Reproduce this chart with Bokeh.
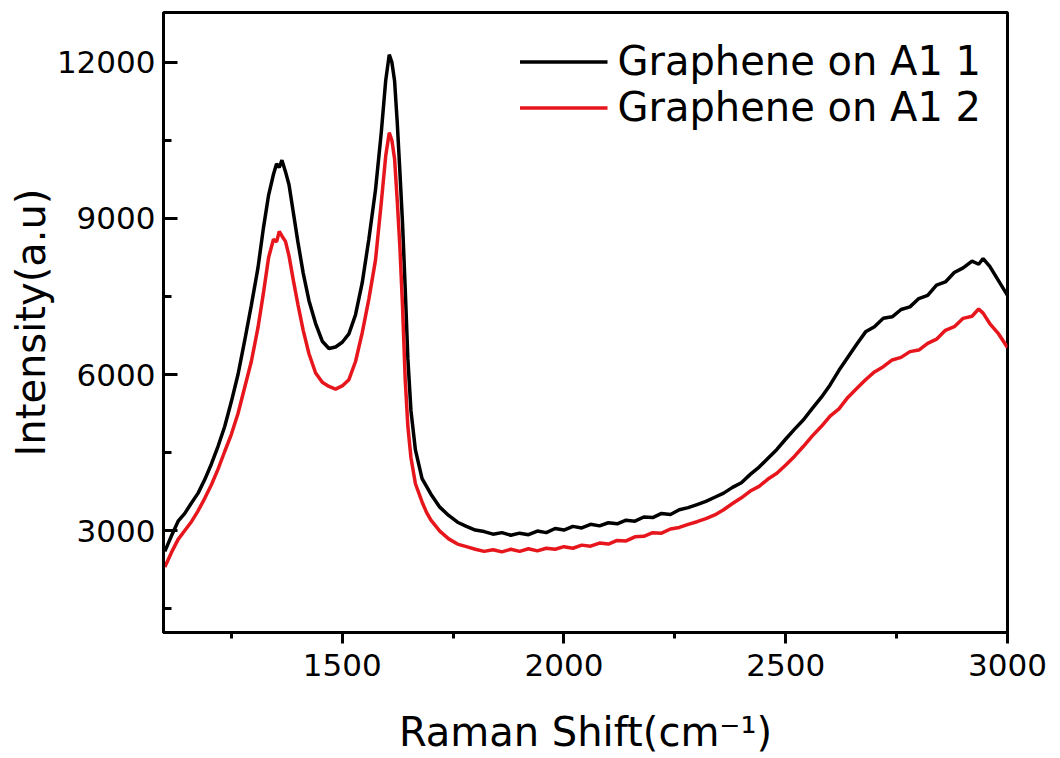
from bokeh.plotting import figure
from bokeh.models import FixedTicker, Range1d, Legend
from bokeh.embed import file_html
from bokeh.resources import INLINE

# ---- data ----
shift_1 = [1100, 1115, 1130, 1145, 1160, 1175, 1190, 1205, 1220, 1235, 1250, 1265, 1280, 1295,
           1310, 1322, 1334, 1345, 1352, 1358, 1364, 1372, 1380, 1390, 1400, 1412, 1425, 1440,
           1455, 1470, 1485, 1500, 1515, 1530, 1545, 1560, 1575, 1588, 1598, 1606, 1612, 1618,
           1624, 1630, 1636, 1642, 1648, 1655, 1665, 1680, 1690,
           1700, 1720, 1740, 1760, 1780, 1800, 1820, 1840, 1860, 1880, 1900, 1920, 1940, 1960,
           1980, 2000, 2020, 2040, 2060, 2080, 2100, 2120, 2140, 2160, 2180, 2200, 2220, 2240,
           2260, 2280, 2300, 2320, 2340, 2360, 2380, 2400, 2420, 2440, 2460, 2480, 2500, 2520,
           2540, 2560, 2580, 2600, 2620, 2640, 2660, 2680, 2700, 2720, 2740, 2760, 2780, 2800,
           2820, 2840, 2860, 2880, 2900, 2920, 2935, 2945, 2960, 2980, 3000]
intensity_1 = [2600, 2900, 3180, 3330, 3530, 3720, 3980, 4280, 4620, 5000, 5480, 6000, 6650, 7330,
               8050, 8800, 9450, 9850, 10050, 9980, 10120, 9900, 9650, 9100, 8550, 7950, 7420, 6980,
               6640, 6500, 6530, 6620, 6780, 7150, 7760, 8600, 9550, 10650, 11650, 12150, 12000, 11650,
               10850, 9900, 8900, 7650, 6300, 5300, 4550, 4000, 3850,
               3700, 3450, 3290, 3160, 3080, 3010, 2980, 2930, 2960, 2910, 2950, 2920, 2990, 2960,
               3040, 3010, 3080, 3050, 3120, 3090, 3150, 3130, 3200, 3180, 3260, 3250, 3330, 3310,
               3400, 3440, 3500, 3560, 3640, 3720, 3830, 3920, 4080, 4220, 4390, 4560, 4760, 4950,
               5130, 5350, 5560, 5800, 6080, 6330, 6580, 6820, 6920, 7080, 7110, 7250, 7300, 7460,
               7520, 7720, 7780, 7960, 8050, 8180, 8120, 8230, 8080, 7800, 7520]

shift_2 = [1100, 1115, 1130, 1145, 1160, 1175, 1190, 1205, 1220, 1235, 1250, 1265, 1280, 1295,
           1310, 1322, 1334, 1345, 1352, 1358, 1365, 1372, 1380, 1390, 1400, 1412, 1425, 1440,
           1455, 1470, 1485, 1500, 1515, 1530, 1545, 1560, 1575, 1588, 1598, 1606, 1612, 1618,
           1624, 1630, 1636, 1642, 1648, 1655, 1665, 1680, 1690,
           1700, 1720, 1740, 1760, 1780, 1800, 1820, 1840, 1860, 1880, 1900, 1920, 1940, 1960,
           1980, 2000, 2020, 2040, 2060, 2080, 2100, 2120, 2140, 2160, 2180, 2200, 2220, 2240,
           2260, 2280, 2300, 2320, 2340, 2360, 2380, 2400, 2420, 2440, 2460, 2480, 2500, 2520,
           2540, 2560, 2580, 2600, 2620, 2640, 2660, 2680, 2700, 2720, 2740, 2760, 2780, 2800,
           2820, 2840, 2860, 2880, 2900, 2920, 2935, 2945, 2960, 2980, 3000]
intensity_2 = [2300, 2580, 2830, 3000, 3170, 3380, 3620, 3880, 4180, 4520, 4850, 5250, 5750, 6250,
               6900, 7550, 8250, 8600, 8550, 8750, 8650, 8560, 8280, 7800, 7350, 6850, 6400, 6030,
               5850, 5770, 5720, 5780, 5900, 6250, 6800, 7450, 8200, 9300, 10200, 10650, 10500, 10150,
               9350, 8450, 7300, 5900, 5000, 4400, 3900, 3550, 3350,
               3200, 2990, 2840, 2740, 2690, 2640, 2600, 2630, 2590, 2640, 2600, 2650, 2610, 2660,
               2640, 2690, 2660, 2720, 2700, 2760, 2740, 2810, 2800, 2880, 2890, 2960, 2950, 3030,
               3060, 3120, 3170, 3230, 3300, 3400, 3520, 3630, 3760, 3850, 3990, 4100, 4260, 4430,
               4620, 4820, 5000, 5200, 5340, 5560, 5730, 5900, 6050, 6150, 6280, 6330, 6440, 6470,
               6600, 6680, 6850, 6920, 7080, 7120, 7260, 7180, 6980, 6780, 6520]

series_labels = ["Graphene on A1 1", "Graphene on A1 2"]
series_colors = ["#000000", "#e6161c"]

x_major = [1500, 2000, 2500, 3000]
x_minor = [1250, 1750, 2250, 2750]
y_major = [3000, 6000, 9000, 12000]
y_minor = [1500, 4500, 7500, 10500]

FONT = "DejaVu Sans"

p = figure(width=1060, height=758, output_backend="svg", toolbar_location=None,
           x_range=Range1d(1097, 3000), y_range=Range1d(1040, 12960),
           min_border_left=163, min_border_right=53, min_border_top=12, min_border_bottom=126)

p.background_fill_color = "white"
p.border_fill_color = "white"
p.outline_line_color = "black"
p.outline_line_width = 3
p.xgrid.visible = False
p.ygrid.visible = False

r1 = p.line(shift_1, intensity_1, line_color=series_colors[0], line_width=3.5)
r2 = p.line(shift_2, intensity_2, line_color=series_colors[1], line_width=3.5)

# axes
xa = p.xaxis[0]
xa.ticker = FixedTicker(ticks=x_major, minor_ticks=x_minor)
xa.axis_label = "Raman Shift(cm\u207b\u00b9)"
xa.major_tick_in = 0
xa.major_tick_out = 11
xa.minor_tick_in = 0
xa.minor_tick_out = 6
xa.major_label_standoff = 10
xa.axis_label_standoff = 30

ya = p.yaxis[0]
ya.ticker = FixedTicker(ticks=y_major, minor_ticks=y_minor)
ya.axis_label = "Intensity(a.u)"
ya.major_tick_in = 14
ya.major_tick_out = 0
ya.minor_tick_in = 8
ya.minor_tick_out = 0
ya.major_label_standoff = 8
ya.axis_label_standoff = 0

for ax in (xa, ya):
    ax.axis_line_width = 3
    ax.axis_line_color = "black"
    ax.major_tick_line_width = 3
    ax.minor_tick_line_width = 3
    ax.major_tick_line_color = "black"
    ax.minor_tick_line_color = "black"
    ax.major_label_text_font = FONT
    ax.major_label_text_font_size = "31px"
    ax.major_label_text_color = "black"
    ax.axis_label_text_font = FONT
    ax.axis_label_text_font_size = "40px"
    ax.axis_label_text_font_style = "normal"
    ax.axis_label_text_color = "black"

legend = Legend(items=[(series_labels[0], [r1]), (series_labels[1], [r2])],
                location="top_right")
legend.background_fill_alpha = 0
legend.border_line_alpha = 0
legend.label_text_font = FONT
legend.label_text_font_size = "40px"
legend.label_text_color = "black"
legend.glyph_width = 88
legend.glyph_height = 39
legend.label_height = 39
legend.label_standoff = 10
legend.spacing = -13
legend.padding = 0
legend.margin = 26
p.add_layout(legend)

open("out.html", "w").write(file_html(p, INLINE))
